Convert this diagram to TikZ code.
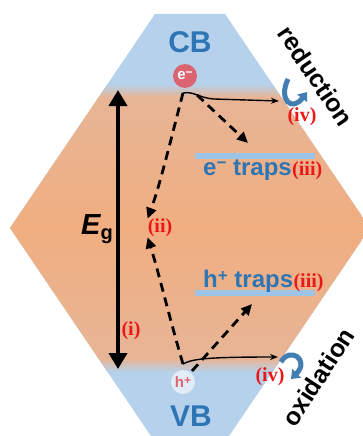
\documentclass[tikz,border=0pt]{standalone}
\usepackage{fontspec}
\setmainfont{Liberation Sans}
\newfontfamily\stepfont{Liberation Serif}
\usetikzlibrary{arrows.meta,positioning}
\definecolor{bandblue}  {RGB}{182,209,235}
\definecolor{gapedge}   {RGB}{231,181,150}
\definecolor{gapmid}    {RGB}{241,174,128}
\definecolor{bandtext}  {RGB}{46,117,182}
\definecolor{trapbar}   {RGB}{157,195,230}
\definecolor{carrier}   {RGB}{220,100,112}
\definecolor{redoxblue} {RGB}{66,126,178}
\definecolor{stepred}   {RGB}{236,24,24}
\newcommand{\fs}[1]{\fontsize{#1}{#1}\selectfont}
\newcommand{\up}[3]{\raisebox{#1}{\fs{#2}\bfseries #3}}

\begin{document}
\begin{tikzpicture}[x=1pt,y=-1pt,
        band/.style={font=\fs{30}\bfseries, text=bandtext},
        elec/.style={circle, fill=carrier, minimum size=24pt, inner sep=0pt,
                     text=white, font=\fs{15}\bfseries},
        hole/.style={circle, fill=white, fill opacity=0.6, text opacity=1,
                     minimum size=24pt, inner sep=0pt,
                     text=carrier, font=\fs{15}\bfseries},
        trap/.style={font=\fs{24}\bfseries, text=bandtext, inner sep=0pt},
        bar/.style={rectangle, fill=trapbar, minimum width=120pt,
                    minimum height=6pt, inner sep=0pt},
        stepnum/.style={font=\fs{20}\stepfont\bfseries, text=stepred, inner sep=0pt},
        redox/.style={font=\fs{25}\bfseries, text=black},
        gaparr/.style={{Triangle[width=18pt,length=16pt]}-{Triangle[width=18pt,length=16pt]},
                       line width=4pt},
        hop/.style={-{Triangle[width=10pt,length=11pt]}, line width=2.8pt,
                    dash pattern=on 9pt off 6pt},
        flow/.style={-{Stealth[length=8pt,width=6pt]}, line width=1.4pt},
        turn/.style={-{Triangle[width=12pt,length=8pt]}, line width=5pt,
                     color=redoxblue}
      ]
        \useasboundingbox (0,0) rectangle (362,436);

        % crystal with CB / gap / VB bands
        \begin{scope}
          \clip (155,14) -- (225,14) -- (370,228) -- (225,442)
                -- (155,442) -- (10,228) -- cycle;
          \fill[bandblue] (0,0) rectangle (370,442);
          \shade[top color=bandblue, bottom color=gapedge] (0,84) rectangle (370,97);
          \shade[top color=gapedge, bottom color=gapmid] (0,97) rectangle (370,229);
          \shade[top color=gapmid, bottom color=gapedge] (0,228) rectangle (370,359);
          \shade[top color=gapedge, bottom color=bandblue] (0,359) rectangle (370,372);
        \end{scope}

        \node[band] (cb) at (190,42) {CB};
        \node[band] (vb) at (191,416) {VB};

        % carriers
        \node[elec] (e) at (185,76) {e\up{3pt}{12}{\char"2212}};
        \node[hole] (h) at (183,382) {h\up{3pt}{12}{+}};

        % band gap
        \coordinate (gtop) at (118,90);
        \coordinate (gbot) at (118,369);
        \draw[gaparr] (gtop) -- (gbot);
        \node[font=\fs{29}\bfseries\itshape] (eg) at (97,229)
          {E\raisebox{-5pt}{\fs{20}\upshape\bfseries g}};
        \node[stepnum] (s1) at (131,331) {(i)};
        \node[stepnum] (s2) at (160,228) {(ii)};

        % trap levels
        \node[bar] (ebar) at (255,156) {};
        \node[trap, anchor=base west] (etrap) at (203,175) {e\up{7pt}{17}{\char"2212} traps};
        \node[stepnum, anchor=base west] (s3a) at (etrap.base east) {(iii)};
        \node[bar] (hbar) at (255,293) {};
        \node[trap, anchor=base west] (htrap) at (203,287) {h\up{6pt}{17}{+} traps};
        \node[stepnum, anchor=base west] (s3b) at (htrap.base east) {(iii)};

        % redox
        \node[redox, rotate=-56] (red) at (316,76) {reduction};
        \node[redox, rotate=57] (ox) at (318,377) {oxidation};
        \node[stepnum] (s4a) at (302,117) {(iv)};
        \node[stepnum] (s4b) at (270,377) {(iv)};
        \coordinate (rin) at (288,79);
        \coordinate (rout) at (307,92);
        \draw[turn] (rin) .. controls (278,100) and (292,112) .. (rout);
        \coordinate (oin) at (281,362);
        \coordinate (oout) at (291,379);
        \draw[turn] (oin) .. controls (290,346) and (310,360) .. (oout);

        % transfer paths
        \coordinate (eout) at (183,93);
        \coordinate (hout) at (183,364);
        \coordinate (rend) at (279,101);
        \coordinate (oend) at (278,357);
        \coordinate (etip) at (248,143);
        \coordinate (htip) at (252,304);
        \draw[flow] (eout) .. controls (194,91) and (199,98) .. (214,99) -- (rend);
        \draw[flow] (hout) .. controls (192,359) and (205,357) .. (oend);
        \draw[hop] (eout) .. controls (172,135) and (160,185) .. (s2.north west);
        \draw[hop] (hout) .. controls (170,320) and (158,270) .. (s2.south west);
        \draw[hop] (197,95) -- (etip);
        \draw[hop] (192,371) -- (htip);

      \end{tikzpicture}
\end{document}
